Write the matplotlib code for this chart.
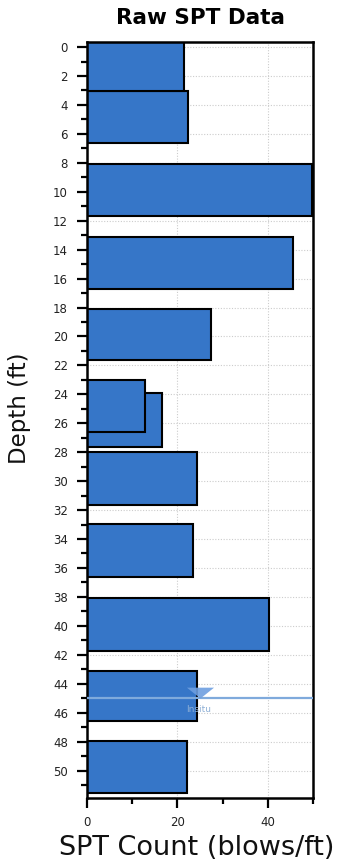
import matplotlib
matplotlib.use("Agg")
import matplotlib.pyplot as plt
import numpy as np

# Sample intervals (ft) and raw SPT blow counts
depth_top = [-0.37, 3.05, 8.10, 13.15, 18.10, 23.03, 23.88, 27.99, 32.96, 38.10, 43.10, 47.96]
depth_bottom = [3.05, 6.60, 11.70, 16.72, 21.65, 26.58, 27.62, 31.65, 36.65, 41.72, 46.60, 51.53]
spt_count = [21.4, 22.3, 49.7, 45.6, 27.4, 12.8, 16.7, 24.4, 23.5, 40.3, 24.4, 22.2]

# In-situ water level
water_depth = 45.0
water_x = 25.0
water_label = "Insitu"

x_ticks = [0, 20, 40]
y_ticks = list(range(0, 51, 2))

BAR = "#3676c8"
WATER = "#7faadc"

fig = plt.figure(figsize=(3.37, 8.67), dpi=100)
ax = fig.add_axes([0.2573, 0.0799, 0.6724, 0.872])

# Wider bars first so narrower overlapping intervals stay visible on top
order = np.argsort(-np.array(spt_count))
for i in order:
    ax.barh((depth_top[i] + depth_bottom[i]) / 2, spt_count[i],
            height=depth_bottom[i] - depth_top[i], left=0,
            color=BAR, edgecolor="black", linewidth=1.5, zorder=2)

ax.axhline(water_depth, color=WATER, lw=1.6, zorder=3)
tri = [(-1, 0.8), (1, 0.8), (0, 0)]
ax.plot([water_x], [water_depth], marker=tri, markersize=19.5, color="#6e9fe0",
        alpha=0.9, markeredgewidth=0, linestyle="none", zorder=4)
ax.text(water_x - 0.4, water_depth + 0.75, water_label, fontsize=6.5, color="#8fb0d6",
        ha="center", va="center", zorder=4)

ax.set_xlim(0, 50)
ax.set_ylim(51.88, -0.37)
ax.set_xticks(x_ticks)
ax.set_xticks([10, 30, 50], minor=True)
ax.set_yticks(y_ticks)
ax.set_yticks(list(range(1, 52, 2)), minor=True)

ax.grid(True, which="major", color="#cccccc", linestyle=(0, (1, 1.5)), linewidth=0.8, zorder=0)
ax.set_axisbelow(True)

ax.tick_params(axis="both", which="major", length=7, width=1.6, color="black",
               labelsize=8.5, labelcolor="#222222", pad=6.5)
ax.tick_params(axis="both", which="minor", length=4.5, width=1.6, color="black")
for sp in ax.spines.values():
    sp.set_linewidth(1.8)
    sp.set_color("black")

ax.set_title("Raw SPT Data", fontsize=15.5, fontweight="bold", pad=12.5)
ax.set_xlabel("SPT Count (blows/ft)", fontsize=19.5, color="#111111")
ax.set_ylabel("Depth (ft)", fontsize=16.5, color="#111111")
ax.xaxis.set_label_coords(0.485, -0.049)
ax.yaxis.set_label_coords(-0.245, 0.515)

fig.savefig("out.png", dpi=100)
